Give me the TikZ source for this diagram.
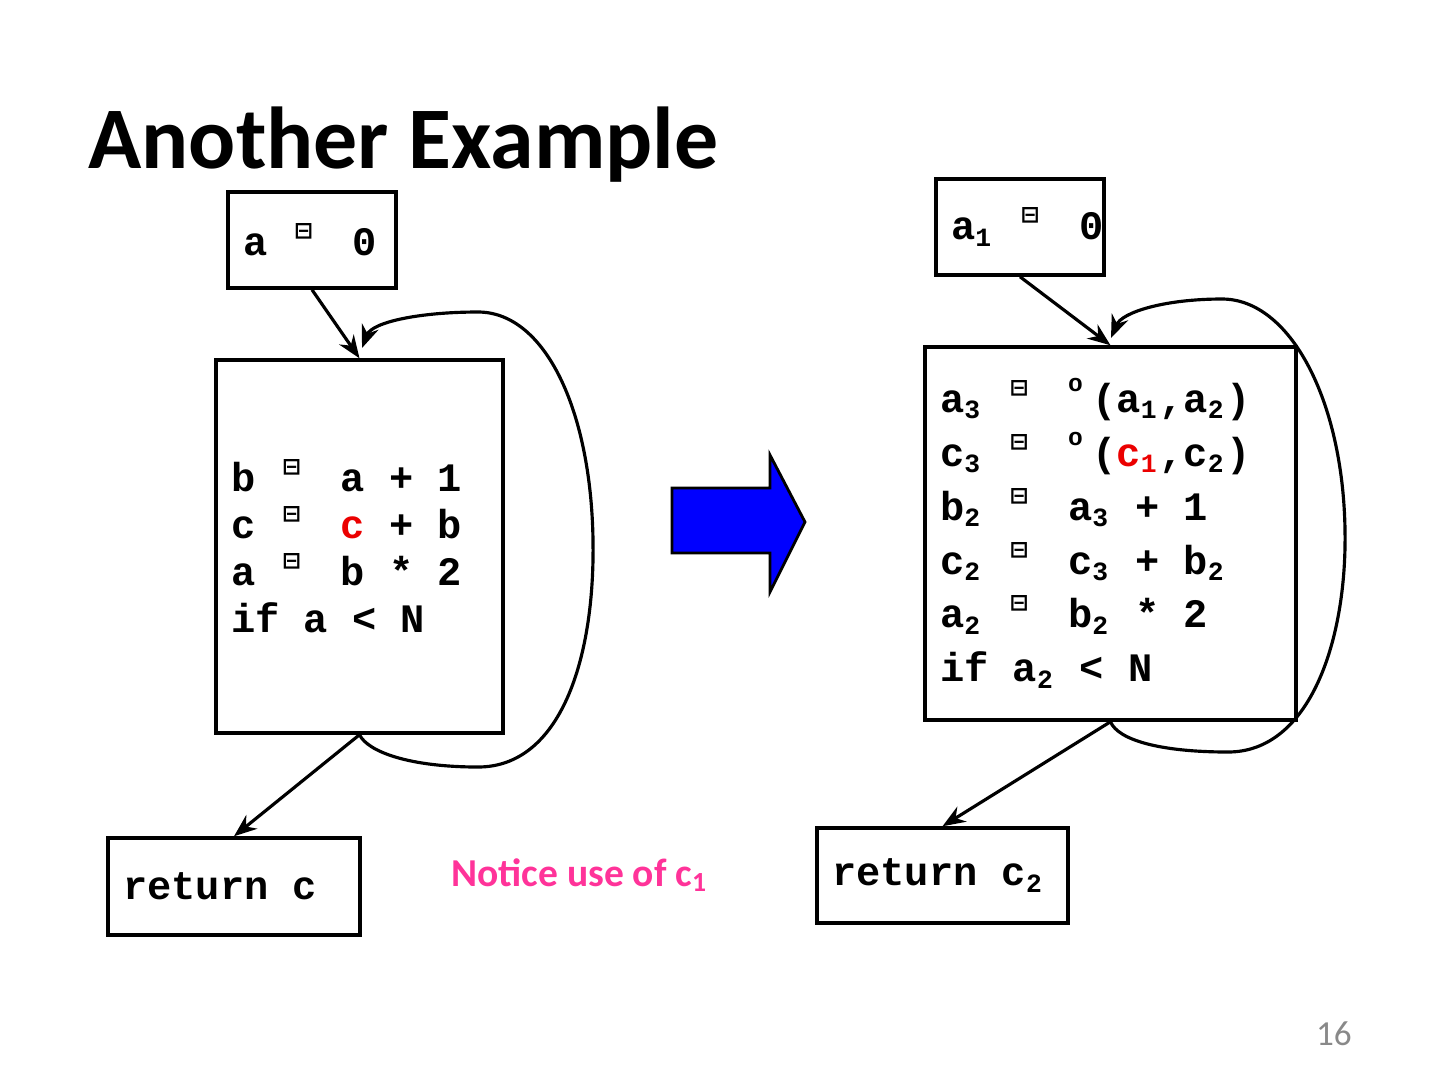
\documentclass[tikz,border=0pt]{standalone}
\usepackage{fontspec}
\setmainfont{Carlito}
\setmonofont{Liberation Mono}
\newfontfamily\symfont{DejaVu Sans}
\usetikzlibrary{arrows.meta}
\definecolor{flowBlue}{RGB}{0,0,255}
\definecolor{noteRose}{RGB}{255,51,153}
\definecolor{useRed}{RGB}{235,0,0}
\definecolor{pageGray}{RGB}{137,137,137}
\newcommand{\codefont}[1]{\fontsize{23}{#1}\selectfont\ttfamily\bfseries}
\newcommand{\monogap}{\spaceskip=13.8pt\relax\xspaceskip=13.8pt\relax}
\newcommand{\asg}{\makebox[21pt][l]{\hspace{1.5pt}\raisebox{0.42em}{\fontsize{13}{13}\selectfont\symfont\bfseries ⊟}}}
\newcommand{\phisym}{\makebox[13.8pt][l]{\raisebox{0.5em}{\fontsize{14}{14}\selectfont o}}}
\newcommand{\lo}[1]{\makebox[10.5pt][l]{\raisebox{-0.3ex}{\fontsize{15}{15}\selectfont #1}}}
\tikzset{
  blk/.style={draw,line width=2pt,inner xsep=0.3cm,inner ysep=0pt,align=left,
    font=\codefont{26.7pt},execute at begin node=\monogap},
  flow/.style={line width=1.8pt,-{Stealth[length=13pt,width=10pt]}}
}
\begin{document}
\begin{tikzpicture}[x=0.02cm,y=-0.02cm]
  \useasboundingbox (0,0) rectangle (1440,1080);
  \node[anchor=base west,inner sep=0pt,font=\fontsize{50}{60}\selectfont\bfseries] (title) at (88,168) {Another Example};
  % original code
  \node[blk,text width=2.76cm,minimum height=1.92cm] (aZero) at (312,240) {a~\asg{}~0};
  \node[blk,text width=5.14cm,minimum height=7.46cm] (bodyL) at (359.5,546.5)
    {b \asg{} a + 1\\c \asg{} {\color{useRed}c} + b\\a \asg{} b * 2\\if a < N};
  \node[blk,text width=4.44cm,minimum height=1.94cm] (retL) at (234,886.5) {return~c};
  \coordinate (loopL) at (362,348);
  \draw[flow] (aZero.south) -- (bodyL.north);
  \draw[flow] (bodyL.south) -- (retL.north);
  \draw[flow] (bodyL.south) .. controls (368,752) and (410,767) .. (478,767)
    .. controls (560,767) and (595,660) .. (593,540)
    .. controls (591,410) and (545,312) .. (478,312)
    .. controls (420,312) and (372,322) .. (loopL);
  % big arrow
  \draw[fill=flowBlue,line width=1.6pt] (672,488) -- (770,488) -- (770,455) -- (805,522)
    -- (770,592) -- (770,553) -- (672,553) -- cycle;
  % SSA form
  \node[blk,text width=2.76cm,minimum height=1.92cm] (aOne) at (1020,227) {a\lo{1}~\asg{}~0};
  \node[blk,text width=6.82cm,minimum height=7.46cm,font=\codefont{30.7pt}] (bodyR) at (1110.5,533.5)
    {a\lo{3} \asg{} \phisym(a\lo{1},a\lo{2})\\
     c\lo{3} \asg{} \phisym({\color{useRed}c\lo{1}},c\lo{2})\\
     b\lo{2} \asg{} a\lo{3} + 1\\
     c\lo{2} \asg{} c\lo{3} + b\lo{2}\\
     a\lo{2} \asg{} b\lo{2} * 2\\
     if a\lo{2} < N};
  \node[blk,text width=4.42cm,minimum height=1.90cm] (retR) at (942.5,875.5) {return~c\lo{2}};
  \coordinate (loopR) at (1111,338);
  \draw[flow] (aOne.south) -- (bodyR.north);
  \draw[flow] (bodyR.south) -- (retR.north);
  \draw[flow] (bodyR.south) .. controls (1118,740) and (1160,752) .. (1228,752)
    .. controls (1310,752) and (1347,640) .. (1345,530)
    .. controls (1343,400) and (1290,299) .. (1222,299)
    .. controls (1165,299) and (1122,312) .. (loopR);
  \node[anchor=base west,inner sep=0pt,text=noteRose,font=\fontsize{22.5}{27}\selectfont\bfseries] (note) at (451,886) {Notice use of c\textsubscript{1}};
  \node[anchor=base east,inner sep=0pt,text=pageGray,font=\fontsize{20}{24}\selectfont] (pageno) at (1352,1045) {16};
\end{tikzpicture}
\end{document}
